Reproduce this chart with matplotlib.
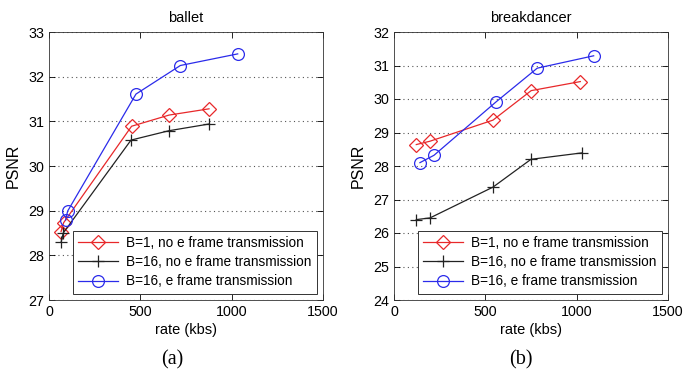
import matplotlib
matplotlib.use("Agg")
import matplotlib.pyplot as plt

plt.rcParams['font.family'] = ['Liberation Sans', 'DejaVu Sans']

# ballet
ballet_rate_b1 = [66, 80, 452, 657, 876]
ballet_psnr_b1 = [28.53, 28.73, 30.89, 31.14, 31.28]
ballet_rate_b16 = [66, 78, 449, 657, 876]
ballet_psnr_b16 = [28.29, 28.50, 30.58, 30.79, 30.94]
ballet_rate_e = [91, 102, 476, 719, 1033]
ballet_psnr_e = [28.79, 28.99, 31.61, 32.25, 32.51]

# breakdancer
bd_rate_b1 = [122, 197, 542, 751, 1020]
bd_psnr_b1 = [28.64, 28.74, 29.37, 30.25, 30.52]
bd_rate_b16 = [122, 197, 542, 750, 1027]
bd_psnr_b16 = [26.40, 26.45, 27.37, 28.20, 28.39]
bd_rate_e = [142, 219, 560, 784, 1093]
bd_psnr_e = [28.10, 28.32, 29.92, 30.92, 31.29]

labels = ['B=1, no e frame transmission',
          'B=16, no e frame transmission',
          'B=16, e frame transmission']

fig = plt.figure(figsize=(6.83, 3.74), dpi=100)
W, H = 683, 374
ax1 = fig.add_axes([49 / W, 1 - 300 / H, 274 / W, 268 / H])
ax2 = fig.add_axes([394 / W, 1 - 300 / H, 274 / W, 268 / H])


def draw(ax, data, title, ylim, yticks, caption, cx):
    (r1, p1), (r2, p2), (r3, p3) = data
    ax.plot(r1, p1, '-', color='#e8282a', marker='D', ms=7, mfc='none',
            mew=0.9, lw=0.9, label=labels[0])
    ax.plot(r2, p2, '-', color='#222222', marker='+', ms=9, mew=0.9,
            lw=0.9, label=labels[1])
    ax.plot(r3, p3, '-', color='#2b2bea', marker='o', ms=8.5, mfc='none',
            mew=0.9, lw=0.9, label=labels[2])
    ax.set_xlim(0, 1500)
    ax.set_ylim(*ylim)
    ax.set_xticks([0, 500, 1000, 1500])
    ax.set_yticks(yticks)
    ax.yaxis.grid(True, linestyle=(0, (1, 3)), color='#555555', lw=0.8)
    ax.tick_params(direction='in', top=True, right=True, labelsize=10.3,
                   length=4, width=0.6)
    for s in ax.spines.values():
        s.set_linewidth(0.6)
        s.set_color('#333333')
    ax.set_title(title, fontsize=10.5, pad=7)
    ax.set_xlabel('rate (kbs)', fontsize=10.5, labelpad=3)
    ax.set_ylabel('PSNR', fontsize=11.5, labelpad=5)
    leg = ax.legend(loc='lower right', fontsize=9.8, fancybox=False,
                    framealpha=1, edgecolor='#333333', borderpad=0.4,
                    labelspacing=0.38, handlelength=2.9, handletextpad=0.6,
                    borderaxespad=0.45)
    leg.get_frame().set_linewidth(0.7)
    fig.text(cx / W, 1 - 360 / H, caption, ha='center', va='center',
             fontsize=14.5, family='Liberation Serif')


draw(ax1, [(ballet_rate_b1, ballet_psnr_b1),
           (ballet_rate_b16, ballet_psnr_b16),
           (ballet_rate_e, ballet_psnr_e)],
     'ballet', (27, 33), range(27, 34), '(a)', 172)
draw(ax2, [(bd_rate_b1, bd_psnr_b1),
           (bd_rate_b16, bd_psnr_b16),
           (bd_rate_e, bd_psnr_e)],
     'breakdancer', (24, 32), range(24, 33), '(b)', 521)

fig.savefig('out.png', dpi=100)
